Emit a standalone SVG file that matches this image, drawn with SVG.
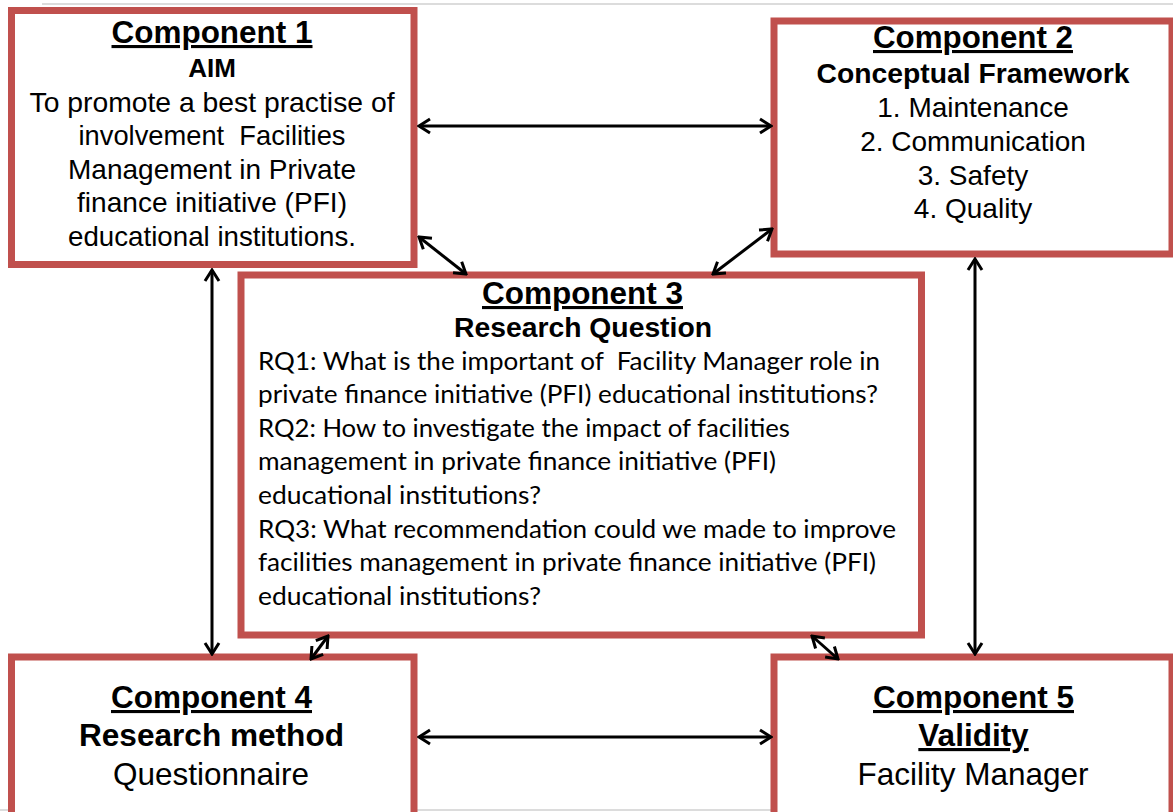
<svg xmlns="http://www.w3.org/2000/svg" width="1173" height="812" viewBox="0 0 1173 812">
<defs>
<style>
.box{fill:#fff;stroke:#C0504D;stroke-width:7;}
.t{font-family:"Liberation Sans",Arial,sans-serif;fill:#000;text-anchor:middle;}
.b{font-weight:bold;}
.u{text-decoration:underline;}
.c{font-family:Lato,"Open Sans",sans-serif;fill:#000;font-size:24.5px;}
.conn{stroke:#000;stroke-width:3;fill:none;marker-start:url(#ah);marker-end:url(#ah);}
.frame{stroke:#dcdcdc;stroke-width:2;}
</style>
<marker id="ah" viewBox="-13 -9 15 18" refX="0" refY="0" markerWidth="15" markerHeight="18" markerUnits="userSpaceOnUse" orient="auto-start-reverse">
<path d="M-11,-7 L0,0 L-11,7" fill="none" stroke="#000" stroke-width="3"/>
</marker>
</defs>
<rect width="1173" height="812" fill="#fff"/>
<line class="frame" x1="42" y1="4" x2="1173" y2="4"/>
<line class="frame" x1="0" y1="810" x2="1173" y2="810"/>

<g id="component1">
<rect class="box" x="11.5" y="10.5" width="402.5" height="254"/>
<text class="t b u" x="212" y="43" font-size="31" textLength="201" lengthAdjust="spacingAndGlyphs">Component 1</text>
<text class="t b" x="212" y="77" font-size="26">AIM</text>
<text class="t" x="212" y="112" font-size="28" textLength="365" lengthAdjust="spacingAndGlyphs">To promote a best practise of</text>
<text class="t" x="212" y="145" font-size="28" textLength="267" lengthAdjust="spacingAndGlyphs">involvement&#160; Facilities</text>
<text class="t" x="212" y="179" font-size="28" textLength="288" lengthAdjust="spacingAndGlyphs">Management in Private</text>
<text class="t" x="212" y="212" font-size="28" textLength="270" lengthAdjust="spacingAndGlyphs">finance initiative (PFI)</text>
<text class="t" x="212" y="246" font-size="28" textLength="288" lengthAdjust="spacingAndGlyphs">educational institutions.</text>
</g>

<g id="component2">
<rect class="box" x="774" y="21" width="398" height="233"/>
<text class="t b u" x="973" y="48" font-size="31" textLength="200" lengthAdjust="spacingAndGlyphs">Component 2</text>
<text class="t b" x="973" y="83" font-size="27" textLength="313" lengthAdjust="spacingAndGlyphs">Conceptual Framework</text>
<text class="t" x="973" y="117" font-size="28">1. Maintenance</text>
<text class="t" x="973" y="151" font-size="28">2. Communication</text>
<text class="t" x="973" y="185" font-size="28">3. Safety</text>
<text class="t" x="973" y="218" font-size="28">4. Quality</text>
</g>

<g id="component3">
<rect class="box" x="241" y="275" width="680.5" height="360"/>
<text class="t b u" x="582.5" y="304" font-size="31" textLength="201" lengthAdjust="spacingAndGlyphs">Component 3</text>
<text class="t b" x="583" y="337" font-size="27" textLength="258" lengthAdjust="spacingAndGlyphs">Research Question</text>
<text class="c" x="258" y="370" textLength="622" lengthAdjust="spacingAndGlyphs">RQ1: What is the important of&#160; Facility Manager role in</text>
<text class="c" x="258" y="403" textLength="620" lengthAdjust="spacingAndGlyphs">private finance initiative (PFI) educational institutions?</text>
<text class="c" x="258" y="437" textLength="532" lengthAdjust="spacingAndGlyphs">RQ2: How to investigate the impact of facilities</text>
<text class="c" x="258" y="470" textLength="518" lengthAdjust="spacingAndGlyphs">management in private finance initiative (PFI)</text>
<text class="c" x="258" y="504" textLength="283" lengthAdjust="spacingAndGlyphs">educational institutions?</text>
<text class="c" x="258" y="538" textLength="638" lengthAdjust="spacingAndGlyphs">RQ3: What recommendation could we made to improve</text>
<text class="c" x="258" y="571" textLength="618" lengthAdjust="spacingAndGlyphs">facilities management in private finance initiative (PFI)</text>
<text class="c" x="258" y="605" textLength="283" lengthAdjust="spacingAndGlyphs">educational institutions?</text>
</g>

<g id="component4">
<rect class="box" x="11.5" y="657" width="402.5" height="175"/>
<text class="t b u" x="211.5" y="708" font-size="31" textLength="201" lengthAdjust="spacingAndGlyphs">Component 4</text>
<text class="t b" x="211.5" y="746" font-size="31.5" textLength="265" lengthAdjust="spacingAndGlyphs">Research method</text>
<text class="t" x="211" y="785" font-size="31.5">Questionnaire</text>
</g>

<g id="component5">
<rect class="box" x="774" y="657" width="398" height="175"/>
<text class="t b u" x="973.5" y="708" font-size="31" textLength="201" lengthAdjust="spacingAndGlyphs">Component 5</text>
<text class="t b u" x="973.5" y="746" font-size="31.5">Validity</text>
<text class="t" x="973" y="785" font-size="31.5">Facility Manager</text>
</g>

<g id="connectors">
<line class="conn" x1="419" y1="126" x2="771" y2="126"/>
<line class="conn" x1="419" y1="237" x2="466" y2="274"/>
<line class="conn" x1="772" y1="229" x2="713" y2="274"/>
<line class="conn" x1="212" y1="270" x2="212" y2="654"/>
<line class="conn" x1="975" y1="259" x2="975" y2="654"/>
<line class="conn" x1="419" y1="737" x2="771" y2="737"/>
<line class="conn" x1="311" y1="659" x2="328" y2="636"/>
<line class="conn" x1="812" y1="636" x2="838" y2="659"/>
</g>
</svg>
